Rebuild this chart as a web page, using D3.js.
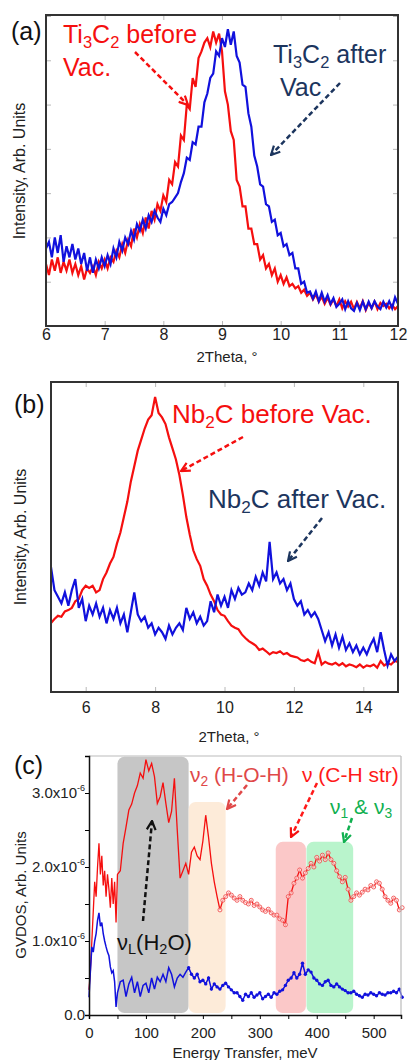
<!DOCTYPE html>
<html>
<head>
<meta charset="utf-8">
<script src="https://cdn.jsdelivr.net/npm/d3@7"></script>
<style>
body { margin: 0; background: #fff; }
svg { display: block; font-family: "Liberation Sans", Arial, sans-serif; }
</style>
</head>
<body>
<svg id="chart" width="408" height="1060"></svg>
<script>
// (a) Ti3C2 XRD, 2theta grid 6..12 every 0.05
var thetaA = d3.range(6, 12.001, 0.05);
var tiBefore = [
  1.4,1.15,1.5,1.25,1.55,1.2,1.45,1.25,1.5,1.2,
  1.4,1.15,1.35,1.05,1.3,1.2,1.35,1.15,1.45,1.3,
  1.5,1.3,1.55,1.45,1.7,1.55,1.85,1.65,1.95,1.8,
  2.2,2.0,2.3,2.1,2.45,2.2,2.6,2.4,2.75,2.6,
  2.95,2.8,3.3,3.2,3.7,3.6,4.3,4.2,5.0,4.9,
  5.6,5.4,6.05,6.2,6.4,6.5,6.3,6.65,6.4,6.6,
  6.2,5.3,5.0,4.4,4.2,3.3,3.15,2.7,2.7,2.2,
  2.2,1.85,1.85,1.5,1.6,1.3,1.4,1.15,1.3,1.0,
  1.15,0.95,1.1,0.9,0.95,0.85,0.9,0.75,0.82,0.68,
  0.75,0.6,0.72,0.55,0.66,0.5,0.64,0.48,0.6,0.45,
  0.6,0.4,0.56,0.44,0.55,0.38,0.54,0.4,0.56,0.36,
  0.52,0.4,0.55,0.38,0.52,0.45,0.5,0.4,0.48,0.38,
  0.45
];
var tiAfter = [
  1.75,1.9,1.55,2.0,1.65,2.05,1.45,1.8,1.55,1.85,
  1.5,1.75,1.4,1.65,1.25,1.55,1.2,1.5,1.3,1.55,
  1.35,1.6,1.4,1.75,1.55,1.9,1.7,2.0,1.85,2.15,
  1.95,2.3,2.15,2.4,2.2,2.5,2.35,2.6,2.45,2.35,
  2.65,2.5,2.75,2.8,2.9,3.0,3.25,3.45,3.8,3.75,
  4.15,4.1,4.5,4.5,5.05,5.25,5.6,5.7,6.2,6.1,
  6.5,6.3,6.7,6.35,6.65,6.1,5.95,5.45,5.4,4.8,
  4.5,3.85,3.6,3.2,3.15,2.75,2.7,2.35,2.4,2.05,
  2.1,1.8,1.85,1.6,1.65,1.3,1.3,0.95,1.0,0.75,
  0.78,0.62,0.78,0.56,0.75,0.55,0.7,0.5,0.63,0.43,
  0.5,0.6,0.38,0.56,0.4,0.34,0.52,0.36,0.55,0.38,
  0.55,0.4,0.56,0.44,0.38,0.55,0.42,0.56,0.4,0.65,
  0.5
];

// (b) Nb2C XRD, 2theta grid 5..15 every 0.1
var thetaB = d3.range(5, 15.001, 0.1);
var nbBefore = [
  1.56,1.65,1.72,1.7,1.82,1.85,1.9,2.05,2.1,2.3,
  2.4,2.35,2.4,2.25,2.3,2.55,2.7,2.9,3.05,3.35,
  3.6,3.95,4.3,4.75,5.1,5.45,5.7,5.95,6.15,6.25,
  6.66,6.3,6.2,6.05,5.75,5.5,5.25,4.9,4.45,3.95,
  3.55,3.2,3.0,2.85,2.55,2.4,2.2,2.05,1.85,1.75,
  1.72,1.6,1.5,1.45,1.42,1.3,1.22,1.15,1.1,1.05,
  0.95,0.98,0.92,0.85,0.9,0.88,0.92,0.85,0.88,0.82,
  0.8,0.78,0.72,0.7,0.74,0.68,0.65,0.9,0.62,0.68,
  0.64,0.62,0.66,0.6,0.65,0.58,0.62,0.6,0.56,0.62,
  0.55,0.6,0.58,0.62,0.55,0.7,0.6,0.65,0.62,0.7,
  0.68
];
var nbAfter = [
  2.82,2.3,2.15,2.0,2.25,1.95,2.3,2.55,1.9,2.1,
  1.6,1.95,1.75,2.0,1.7,1.9,1.55,1.85,1.65,1.9,
  1.55,1.75,1.35,1.8,2.25,1.75,1.6,1.7,1.45,1.55,
  1.3,1.45,1.35,1.2,1.5,1.3,1.45,1.55,1.4,1.9,
  1.65,1.8,1.55,1.7,1.5,1.6,2.05,1.8,2.2,1.95,
  2.15,1.9,2.3,2.1,2.35,2.2,2.25,2.45,2.3,2.6,
  2.4,2.7,2.5,3.39,2.55,2.7,2.45,2.55,2.3,2.45,
  2.1,1.95,2.05,1.75,1.85,1.7,1.8,1.65,1.4,1.15,
  1.35,1.05,1.3,1.0,1.25,0.95,1.1,0.9,1.05,0.85,
  1.0,0.85,1.05,1.2,0.9,1.35,0.95,0.6,0.85,0.7,
  0.8
];

// (c) GVDOS (x1e-6), energy grid: 0..47.5 every 2.5 then 50..550 every 5
var energy = d3.range(0, 49, 2.5).concat(d3.range(50, 550.1, 5));
var gvdosBefore = [
  0.34,0.6,1.0,1.4,1.8,1.6,2.0,2.32,1.9,2.15,
  1.75,1.95,1.6,1.9,1.7,1.45,1.85,1.5,1.8,1.25,
  1.9,1.95,2.32,2.54,2.77,2.85,3.0,3.1,3.27,3.2,
  3.45,3.3,3.4,3.22,2.86,2.95,3.14,2.86,2.6,2.75,
  3.2,2.5,1.85,1.95,2.05,1.9,2.2,2.27,2.15,2.1,
  2.35,2.7,2.4,2.05,1.8,1.6,1.42,1.55,1.6,1.65,
  1.62,1.58,1.55,1.6,1.55,1.52,1.5,1.55,1.48,1.5,
  1.46,1.42,1.4,1.43,1.38,1.35,1.35,1.3,1.28,1.22,
  1.6,1.65,1.78,1.85,1.96,1.85,1.92,1.98,2.05,2.0,
  2.13,2.08,2.16,2.1,2.19,2.1,2.05,1.95,1.87,1.8,
  1.86,1.7,1.55,1.6,1.65,1.62,1.66,1.7,1.69,1.75,
  1.73,1.8,1.78,1.7,1.6,1.55,1.51,1.58,1.55,1.42,
  1.45
];
var gvdosAfter = [
  0.24,0.6,0.92,0.85,1.0,1.1,1.28,1.38,1.2,1.25,
  1.1,1.0,0.92,0.85,0.8,0.65,0.57,0.6,0.45,0.11,
  0.3,0.45,0.47,0.25,0.42,0.51,0.3,0.45,0.25,0.4,
  0.43,0.3,0.5,0.35,0.51,0.45,0.55,0.45,0.64,0.55,
  0.38,0.5,0.55,0.51,0.58,0.64,0.55,0.5,0.55,0.45,
  0.47,0.42,0.5,0.35,0.42,0.38,0.35,0.4,0.43,0.38,
  0.34,0.3,0.3,0.25,0.2,0.28,0.25,0.3,0.24,0.27,
  0.3,0.22,0.25,0.28,0.24,0.3,0.28,0.32,0.34,0.4,
  0.47,0.5,0.57,0.5,0.55,0.7,0.55,0.61,0.58,0.5,
  0.47,0.42,0.4,0.45,0.47,0.4,0.38,0.42,0.38,0.35,
  0.33,0.3,0.3,0.32,0.28,0.26,0.24,0.28,0.27,0.3,
  0.28,0.26,0.3,0.28,0.27,0.3,0.3,0.32,0.3,0.35,
  0.24
];

// shaded vibration bands in (c), meV and top in x1e-6
var bandFrom = [50, 175, 328, 382];
var bandTo = [175, 240, 381, 464];
var bandTop = [3.49, 2.88, 2.34, 2.34];

var RED = "#f50f0f", BLUE = "#1111dd", NAVY = "#1c355e";

var svg = d3.select("#chart");
svg.append("rect").attr("width", 408).attr("height", 1060).attr("fill", "#fff");

var defs = svg.append("defs");
function headFor(id, color) {
  defs.append("marker")
      .attr("id", id)
      .attr("viewBox", "0 0 10 10")
      .attr("refX", 9).attr("refY", 5)
      .attr("markerWidth", 11).attr("markerHeight", 11)
      .attr("markerUnits", "userSpaceOnUse")
      .attr("orient", "auto")
    .append("path")
      .attr("d", "M1,1 L9,5 L1,9")
      .attr("fill", "none")
      .attr("stroke", color)
      .attr("stroke-width", 2);
}
headFor("h-red", RED);
headFor("h-navy", NAVY);
headFor("h-black", "#111");
headFor("h-pink", "#e04848");
headFor("h-green", "#10b050");

function arrow(x1, y1, x2, y2, color, head) {
  svg.append("line")
      .attr("x1", x1).attr("y1", y1).attr("x2", x2).attr("y2", y2)
      .attr("stroke", color)
      .attr("stroke-width", 2.5)
      .attr("stroke-dasharray", "5,3")
      .attr("marker-end", "url(#" + head + ")");
}

// text with subscripts: parts = [[str, sub?], ...]
function label(x, y, parts, size, color) {
  var t = svg.append("text").attr("x", x).attr("y", y)
      .attr("font-size", size).attr("fill", color);
  var down = false;
  parts.forEach(function(p) {
    var s = t.append("tspan").text(p[0]);
    if (p[1] && !down) { s.attr("dy", size * 0.2).attr("font-size", size * 0.66); down = true; }
    else if (p[1]) { s.attr("font-size", size * 0.66); }
    else if (down) { s.attr("dy", -size * 0.2); down = false; }
  });
  return t;
}

function yTitle(x, y, txt, size) {
  svg.append("text")
      .attr("transform", "translate(" + x + "," + y + ") rotate(-90)")
      .attr("text-anchor", "middle")
      .attr("font-size", size)
      .attr("fill", "#222")
      .text(txt);
}

function greyTicks(g) {
  g.select(".domain").remove();
  g.selectAll(".tick line").attr("stroke", "#b8b8b8").attr("stroke-width", 1);
  g.selectAll(".tick text").attr("fill", "#222").attr("font-family", null);
}

// ---------- panel (a) ----------
var xA = d3.scaleLinear().domain([6, 12]).range([46, 398]);
var yA = d3.scaleLinear().domain([0, 7]).range([326, 16]);

svg.append("g").attr("transform", "translate(0,326)")
    .call(d3.axisBottom(xA).ticks(6).tickSizeInner(-5).tickSizeOuter(0).tickPadding(3))
    .call(greyTicks)
    .selectAll("text").attr("font-size", 16);
svg.append("g").attr("transform", "translate(0,15)")
    .call(d3.axisTop(xA).ticks(6).tickSizeInner(-5).tickSizeOuter(0).tickFormat(""))
    .call(greyTicks);
svg.append("g").attr("transform", "translate(46,0)")
    .call(d3.axisLeft(yA).ticks(7).tickSizeInner(-5).tickSizeOuter(0).tickFormat(""))
    .call(greyTicks);
svg.append("g").attr("transform", "translate(398,0)")
    .call(d3.axisRight(yA).ticks(7).tickSizeInner(-5).tickSizeOuter(0).tickFormat(""))
    .call(greyTicks);

var lineA = d3.line().x(function(d, i) { return xA(thetaA[i]); }).y(function(d) { return yA(d); });
svg.append("path").datum(tiBefore).attr("d", lineA)
    .attr("fill", "none").attr("stroke", RED).attr("stroke-width", 2.2);
svg.append("path").datum(tiAfter).attr("d", lineA)
    .attr("fill", "none").attr("stroke", BLUE).attr("stroke-width", 2.2);

svg.append("rect").attr("x", 46).attr("y", 15).attr("width", 352).attr("height", 311)
    .attr("fill", "none").attr("stroke", "#333").attr("stroke-width", 2);

svg.append("text").attr("x", 227).attr("y", 362).attr("text-anchor", "middle")
    .attr("font-size", 15).attr("fill", "#222").text("2Theta, °");
yTitle(25, 171, "Intensity, Arb. Units", 16);

label(11, 40, [["(a)"]], 25, "#111");
label(63, 43, [["Ti"], ["3", 1], ["C"], ["2", 1], [" before"]], 25, RED);
label(63, 76, [["Vac."]], 25, RED);
label(273, 63, [["Ti"], ["3", 1], ["C"], ["2", 1], [" after"]], 25, NAVY);
label(280, 96, [["Vac"]], 25, NAVY);
arrow(135, 52, 188, 105, RED, "h-red");
arrow(340, 83, 271, 155, NAVY, "h-navy");

// ---------- panel (b) ----------
var xB = d3.scaleLinear().domain([5, 15]).range([51, 398]);
var yB = d3.scaleLinear().domain([0, 7]).range([692, 382]);
var evenB = [6, 8, 10, 12, 14];

svg.append("g").attr("transform", "translate(0,692)")
    .call(d3.axisBottom(xB).tickValues(evenB).tickSizeInner(-5).tickSizeOuter(0).tickPadding(10))
    .call(greyTicks)
    .selectAll("text").attr("font-size", 16);
svg.append("g").attr("transform", "translate(0,382)")
    .call(d3.axisTop(xB).tickValues(evenB).tickSizeInner(-5).tickSizeOuter(0).tickFormat(""))
    .call(greyTicks);

var lineB = d3.line().x(function(d, i) { return xB(thetaB[i]); }).y(function(d) { return yB(d); });
svg.append("path").datum(nbBefore).attr("d", lineB)
    .attr("fill", "none").attr("stroke", RED).attr("stroke-width", 2.2);
svg.append("path").datum(nbAfter).attr("d", lineB)
    .attr("fill", "none").attr("stroke", BLUE).attr("stroke-width", 2.2);

svg.append("rect").attr("x", 51).attr("y", 382).attr("width", 347).attr("height", 310)
    .attr("fill", "none").attr("stroke", "#333").attr("stroke-width", 2);

svg.append("text").attr("x", 229).attr("y", 742).attr("text-anchor", "middle")
    .attr("font-size", 15).attr("fill", "#222").text("2Theta, °");
yTitle(26, 537, "Intensity, Arb. Units", 16);

label(14, 413, [["(b)"]], 25, "#111");
label(172, 423, [["Nb"], ["2", 1], ["C before Vac."]], 26, RED);
label(208, 508, [["Nb"], ["2", 1], ["C after Vac."]], 26, NAVY);
arrow(243, 437, 181, 471, RED, "h-red");
arrow(322, 518, 288, 561, NAVY, "h-navy");

// ---------- panel (c) ----------
var xC = d3.scaleLinear().domain([0, 548]).range([89, 401]);
var yC = d3.scaleLinear().domain([0, 3.5]).range([1015, 756]);

svg.selectAll(".band")
    .data(bandFrom)
  .enter().append("rect")
    .attr("class", "band")
    .attr("x", function(d) { return xC(d); })
    .attr("width", function(d, i) { return xC(bandTo[i]) - xC(d); })
    .attr("y", function(d, i) { return yC(bandTop[i]); })
    .attr("height", function(d, i) { return yC(0) - 2 - yC(bandTop[i]); })
    .attr("rx", 7)
    .attr("fill", function(d, i) { return ["#c6c6c6", "#fdebd9", "#fbc8c8", "#b9f4cc"][i]; });

var lineC = d3.line().x(function(d, i) { return xC(energy[i]); }).y(function(d) { return yC(d); });
svg.append("path").datum(gvdosBefore).attr("d", lineC)
    .attr("fill", "none").attr("stroke", RED).attr("stroke-width", 1.3);
svg.append("path").datum(gvdosAfter).attr("d", lineC)
    .attr("fill", "none").attr("stroke", BLUE).attr("stroke-width", 1.5);

svg.selectAll(".dotR")
    .data(gvdosBefore.map(function(d, i) { return [energy[i], d]; }).filter(function(p) { return p[0] >= 230; }))
  .enter().append("circle")
    .attr("cx", function(p) { return xC(p[0]); })
    .attr("cy", function(p) { return yC(p[1]); })
    .attr("r", 2)
    .attr("fill", "#fff")
    .attr("fill-opacity", 0.6)
    .attr("stroke", "#f05050")
    .attr("stroke-width", 0.9);
svg.selectAll(".dotB")
    .data(gvdosAfter.map(function(d, i) { return [energy[i], d]; }).filter(function(p) { return p[0] >= 175; }))
  .enter().append("circle")
    .attr("cx", function(p) { return xC(p[0]); })
    .attr("cy", function(p) { return yC(p[1]); })
    .attr("r", 1.7)
    .attr("fill", BLUE);

// frame: grey top/right, black axes
svg.append("line").attr("x1", 89).attr("x2", 401).attr("y1", 756).attr("y2", 756)
    .attr("stroke", "#bbb").attr("stroke-width", 1.2);
svg.append("line").attr("x1", 401).attr("x2", 401).attr("y1", 756).attr("y2", 1015)
    .attr("stroke", "#bbb").attr("stroke-width", 1.2);

var axC = svg.append("g").attr("transform", "translate(0,1015)")
    .call(d3.axisBottom(xC).tickValues(d3.range(0, 550, 50)).tickSize(4).tickPadding(8)
      .tickFormat(function(d) { return d % 100 === 0 ? d : ""; }));
axC.select(".domain").attr("stroke", "#111").attr("stroke-width", 1.5);
axC.selectAll("text").attr("font-size", 15).attr("fill", "#222").attr("font-family", null);

var ayC = svg.append("g").attr("transform", "translate(89,0)")
    .call(d3.axisLeft(yC).tickValues(d3.range(0, 3.51, 0.5)).tickSize(4).tickFormat(""));
ayC.select(".domain").attr("stroke", "#111").attr("stroke-width", 1.5);

[0, 1, 2, 3].forEach(function(v) {
  var t = svg.append("text").attr("x", 85).attr("y", yC(v) + 5)
      .attr("text-anchor", "end").attr("font-size", 15).attr("fill", "#222");
  if (v === 0) { t.text("0.0"); return; }
  t.append("tspan").text(v.toFixed(1) + "x10");
  t.append("tspan").text("-6").attr("font-size", 9).attr("dy", -7);
});

svg.append("text").attr("x", 245).attr("y", 1058).attr("text-anchor", "middle")
    .attr("font-size", 15).attr("fill", "#222").text("Energy Transfer, meV");
yTitle(26, 895, "GVDOS, Arb. Units", 15);

label(14, 774, [["(c)"]], 25, "#111");
label(190, 782, [["ν"], ["2", 1], [" (H-O-H)"]], 21, "#e04848");
label(302, 782, [["ν (C-H str)"]], 21, "#ff1a1a");
label(330, 814, [["ν"], ["1", 1], [" & ν"], ["3", 1]], 21, "#10b050");
label(117, 950, [["ν"], ["L", 1], ["(H"], ["2", 1], ["O)"]], 22, "#111");
arrow(143, 921, 152, 821, "#111", "h-black");
arrow(247, 785, 227, 809, "#e04848", "h-pink");
arrow(317, 783, 291, 837, "#ff1a1a", "h-red");
arrow(352, 818, 344, 842, "#10b050", "h-green");
</script>
</body>
</html>
